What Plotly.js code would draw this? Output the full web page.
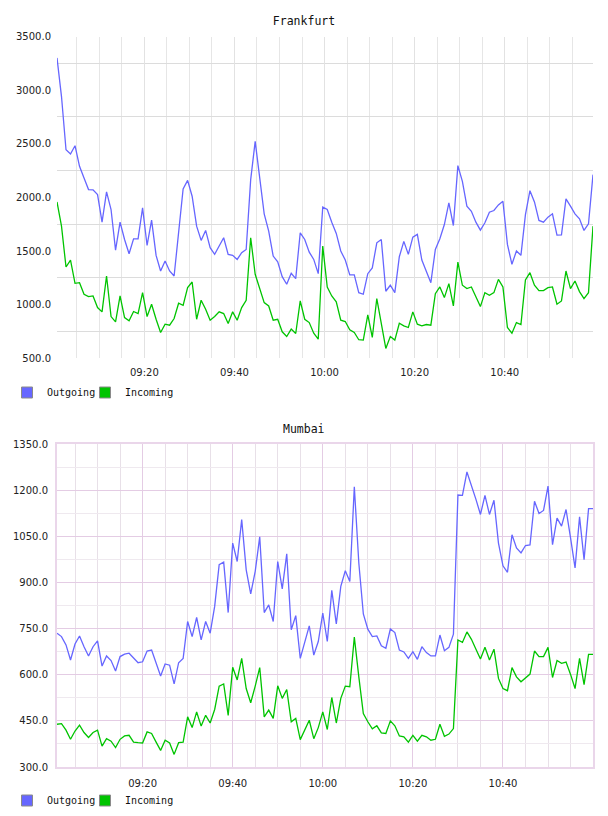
<!DOCTYPE html>
<html>
<head>
<meta charset="utf-8">
<script src="https://cdn.plot.ly/plotly-3.0.1.min.js"></script>
<style>html,body{margin:0;padding:0;background:#fff;}#chart{width:608px;height:816px;}</style>
</head>
<body>
<div id="chart"></div>
<script>
// ---- data (one sample per minute) ----
const seriesNames = ["Outgoing", "Incoming"];
const chartTitles = ["Frankfurt", "Mumbai"];
const frankfurtStart = "2024-01-01 09:00:36";
const mumbaiStart = "2024-01-01 09:01:00";

const frankfurtOutgoing = [3300, 2940, 2444, 2404, 2482, 2290, 2181, 2073, 2070, 2026,
  1769, 2051, 1887, 1509, 1769, 1608, 1475, 1614, 1614, 1902,
  1552, 1788, 1459, 1314, 1407, 1314, 1267, 1650, 2079, 2159,
  2011, 1732, 1599, 1692, 1531, 1469, 1546, 1624, 1469, 1460,
  1422, 1484, 1515, 2166, 2522, 2166, 1847, 1686, 1453, 1400,
  1261, 1190, 1292, 1243, 1670, 1608, 1490, 1422, 1289, 1909,
  1887, 1769, 1664, 1500, 1416, 1277, 1277, 1112, 1097, 1289,
  1342, 1577, 1608, 1125, 1181, 1112, 1447, 1590, 1469, 1630,
  1655, 1416, 1304, 1205, 1515, 1614, 1747, 1949, 1738, 2296,
  2150, 1918, 1871, 1769, 1695, 1763, 1862, 1878, 1930, 1964,
  1562, 1376, 1500, 1460, 1840, 2063, 1958, 1785, 1769, 1816,
  1847, 1648, 1651, 1986, 1918, 1847, 1800, 1692, 1754, 2212];

const frankfurtIncoming = [1958, 1732, 1351, 1416, 1199, 1205, 1097, 1075, 1081, 973,
  933, 1267, 889, 840, 1081, 880, 849, 936, 917, 1112,
  889, 1004, 864, 741, 818, 809, 871, 1013, 994, 1159,
  1211, 864, 1041, 957, 855, 889, 933, 917, 824, 933,
  855, 973, 1041, 1624, 1283, 1150, 1019, 988, 855, 864,
  747, 703, 772, 731, 1035, 864, 833, 734, 679, 1546,
  1165, 1081, 1026, 855, 843, 766, 741, 673, 670, 905,
  694, 1057, 833, 592, 703, 670, 827, 803, 787, 933,
  818, 803, 815, 809, 1103, 1165, 1066, 1196, 988, 1397,
  1181, 1150, 1165, 1072, 982, 1112, 1088, 1112, 1236, 1165,
  787, 734, 833, 815, 1230, 1298, 1181, 1131, 1131, 1159,
  1165, 1004, 1035, 1314, 1150, 1221, 1122, 1057, 1112, 1732];

const mumbaiOutgoing = [735, 724, 697, 648, 700, 726, 691, 661, 691, 710,
  628, 661, 646, 612, 659, 667, 670, 653, 639, 642,
  677, 680, 634, 596, 635, 631, 570, 639, 653, 773,
  724, 786, 713, 773, 735, 822, 958, 966, 802, 1028,
  968, 1104, 941, 863, 936, 1048, 802, 827, 773, 968,
  879, 993, 746, 792, 653, 702, 759, 664, 708, 800,
  708, 874, 765, 887, 938, 903, 1211, 963, 798, 748,
  724, 726, 694, 686, 749, 737, 680, 674, 653, 675,
  650, 691, 672, 661, 661, 729, 678, 689, 732, 1184,
  1183, 1259, 1218, 1170, 1121, 1183, 1121, 1167, 1028, 954,
  933, 1055, 1012, 996, 1020, 1022, 1164, 1124, 1134, 1213,
  1023, 1109, 1083, 1137, 1045, 947, 1113, 974, 1140, 1140];

const mumbaiIncoming = [439, 441, 420, 390, 417, 436, 412, 396, 412, 420,
  368, 392, 384, 363, 390, 401, 403, 381, 379, 378,
  414, 409, 381, 354, 387, 378, 341, 379, 381, 463,
  428, 479, 433, 468, 443, 487, 563, 570, 468, 624,
  583, 653, 555, 509, 563, 623, 463, 485, 458, 564,
  523, 552, 447, 458, 389, 420, 452, 392, 428, 479,
  422, 526, 443, 523, 563, 561, 722, 593, 474, 447,
  424, 434, 411, 409, 450, 434, 401, 398, 381, 403,
  384, 403, 398, 387, 390, 439, 400, 407, 425, 713,
  705, 739, 715, 683, 651, 689, 648, 683, 588, 555,
  548, 623, 593, 577, 588, 602, 677, 659, 659, 689,
  591, 646, 637, 641, 601, 555, 653, 568, 666, 666];

// ---- helpers ----
function minuteStamps(start, n) {
  const t0 = new Date(start.replace(" ", "T") + "Z").getTime();
  const out = [];
  for (let i = 0; i < n; i++) {
    out.push(new Date(t0 + i * 60000).toISOString().replace("T", " ").slice(0, 19));
  }
  return out;
}
const xTop = minuteStamps(frankfurtStart, frankfurtOutgoing.length);
const xBot = minuteStamps(mumbaiStart, mumbaiOutgoing.length);

// 5-minute grid positions that are not on the labelled 20-minute marks
function fiveMinuteGrid() {
  const t0 = new Date("2024-01-01T09:00:00Z").getTime();
  const out = [];
  for (let m = 0; m <= 120; m += 5) {
    if (m % 20 !== 0) out.push(new Date(t0 + m * 60000).toISOString().replace("T", " ").slice(0, 19));
  }
  return out;
}
const minorTimes = fiveMinuteGrid();

const BLUE = "#6666ff", GREEN = "#00c400";
const H = 816, W = 608;
const py = p => 1 - p / H;

function lineTrace(x, y, name, color, xa, ya) {
  return {x: x, y: y, name: name, type: "scatter", mode: "lines",
    line: {color: color, width: 1.3}, xaxis: xa, yaxis: ya, showlegend: false,
    hoverinfo: "x+y"};
}
function legendTrace(name, color, xa, ya, lg, entryW) {
  return {x: [null], y: [null], name: name, type: "scatter", mode: "markers",
    marker: {symbol: "square", size: 11, color: color, line: {color: "#8a8a8a", width: 1}},
    xaxis: xa, yaxis: ya, legend: lg, showlegend: true, legendwidth: entryW};
}

const data = [
  lineTrace(xTop, frankfurtOutgoing, seriesNames[0], BLUE, "x", "y"),
  lineTrace(xTop, frankfurtIncoming, seriesNames[1], GREEN, "x", "y"),
  lineTrace(xBot, mumbaiOutgoing, seriesNames[0], BLUE, "x2", "y2"),
  lineTrace(xBot, mumbaiIncoming, seriesNames[1], GREEN, "x2", "y2"),
  legendTrace(seriesNames[0], BLUE, "x", "y", "legend", 33),
  legendTrace(seriesNames[1], GREEN, "x", "y", "legend", 60),
  legendTrace(seriesNames[0], BLUE, "x2", "y2", "legend2", 33),
  legendTrace(seriesNames[1], GREEN, "x2", "y2", "legend2", 60)
];

const tickFont = {family: "DejaVu Sans", size: 10, color: "#222"};
const monoFont = {family: "DejaVu Sans Mono", size: 10, color: "#111"};
const xDomain = [57 / W, 593 / W];
const PINK = "#e4cce4";
const FRAME = "#ead6ea";

const legendCommon = {orientation: "h", xanchor: "left", yanchor: "middle",
  x: 7 / W, font: monoFont, bgcolor: "rgba(0,0,0,0)",
  itemwidth: 30, itemclick: false, itemdoubleclick: false};

const layout = {
  width: W, height: H, autosize: false,
  margin: {l: 0, r: 0, t: 0, b: 0, pad: 0},
  paper_bgcolor: "#ffffff", plot_bgcolor: "#ffffff",
  showlegend: true,
  title: {text: chartTitles[0], x: 0.5, xanchor: "center", y: py(20.5), yanchor: "middle",
    font: {family: "DejaVu Sans Mono", size: 11.5, color: "#111"}},
  annotations: [{text: chartTitles[1], xref: "paper", yref: "paper", x: 0.5, y: py(429),
    xanchor: "center", yanchor: "middle", showarrow: false,
    font: {family: "DejaVu Sans Mono", size: 11.5, color: "#111"}}],
  legend: Object.assign({}, legendCommon, {y: py(392.5)}),
  legend2: Object.assign({}, legendCommon, {y: py(800.5)}),
  xaxis: {
    domain: xDomain, anchor: "y", type: "date",
    range: [xTop[0], xTop[xTop.length - 1]],
    tickmode: "linear", tick0: "2024-01-01 09:00:00", dtick: 1200000,
    tickformat: "%H:%M", tickfont: tickFont, ticks: "", ticklabelstandoff: 7,
    showgrid: true, gridcolor: "#e2e2e2", gridwidth: 1,
    minor: {tickmode: "array", tickvals: minorTimes,
      showgrid: true, gridcolor: "#e6e6e6", gridwidth: 1, ticks: ""},
    showline: false, zeroline: false, fixedrange: true
  },
  yaxis: {
    domain: [py(358.3), py(36.5)], anchor: "x",
    range: [500, 3500], tickmode: "linear", tick0: 500, dtick: 500,
    tickformat: ".1f", tickfont: tickFont, ticks: "", ticklabelstandoff: 5,
    showgrid: false,
    minor: {tickmode: "linear", tick0: 250, dtick: 500, showgrid: true,
      gridcolor: "#dcdcdc", gridwidth: 1, ticks: ""},
    showline: false, zeroline: false, fixedrange: true
  },
  xaxis2: {
    domain: xDomain, anchor: "y2", type: "date",
    range: [xBot[0], "2024-01-01 10:59:59"],
    tickmode: "linear", tick0: "2024-01-01 09:00:00", dtick: 1200000,
    tickformat: "%H:%M", tickfont: tickFont, ticks: "", ticklabelstandoff: 6,
    showgrid: true, gridcolor: PINK, gridwidth: 1,
    minor: {tickmode: "array", tickvals: minorTimes,
      showgrid: true, gridcolor: "#e8e0e8", gridwidth: 1, ticks: ""},
    showline: true, mirror: true, linecolor: FRAME, linewidth: 2,
    zeroline: false, fixedrange: true
  },
  yaxis2: {
    domain: [py(767), py(444)], anchor: "x2",
    range: [300, 1350], tickmode: "linear", tick0: 300, dtick: 150,
    tickformat: ".1f", tickfont: tickFont, ticks: "", ticklabelstandoff: 5,
    showgrid: true, gridcolor: PINK, gridwidth: 1,
    minor: {tickmode: "linear", tick0: 375, dtick: 150, showgrid: true,
      gridcolor: "#efe9ef", gridwidth: 1, ticks: ""},
    showline: true, mirror: true, linecolor: FRAME, linewidth: 2,
    zeroline: false, fixedrange: true
  }
};

Plotly.newPlot("chart", data, layout, {displayModeBar: false});
</script>
</body>
</html>
